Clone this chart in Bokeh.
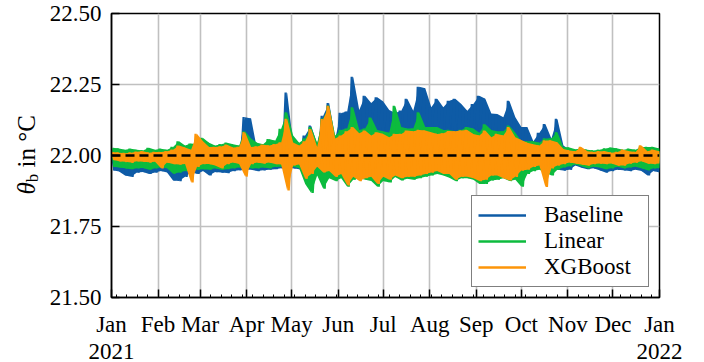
import numpy as np
import pandas as pd
from bokeh.plotting import figure
from bokeh.layouts import row
from bokeh.models import FixedTicker, Span, Range1d, NumeralTickFormatter, Div, DatetimeAxis
from bokeh.embed import file_html
from bokeh.resources import INLINE

# ---------------- data ----------------
START = "2021-01-01"
days = list(range(0, 365, 4))          # sample day (offset from Jan 1, 2021)

baseline_hi = [22.01, 22.008, 22.005, 22.01, 22.008, 22.006, 22.01, 22.008, 22.01, 22.012, 22.015, 22.02, 22.015, 22.012, 22.02, 22.02,
               22.015, 22.012, 22.01, 22.015, 22.012, 22.02, 22.135, 22.13, 22.02, 22.015, 22.02, 22.02, 22.03, 22.222, 22.04,
               22.03, 22.07, 22.105, 22.04, 22.14, 22.185, 22.06, 22.15, 22.155, 22.277, 22.16, 22.21, 22.185, 22.205, 22.19, 22.16,
               22.15, 22.158, 22.2, 22.158, 22.242, 22.237, 22.17, 22.2, 22.17, 22.193, 22.2, 22.181, 22.158, 22.181, 22.21,
               22.2, 22.148, 22.146, 22.135, 22.193, 22.135, 22.1, 22.1, 22.05, 22.08, 22.111, 22.06, 22.129, 22.035, 22.02,
               22.01, 22.012, 22.01, 22.008, 22.01, 22.012, 22.015, 22.012, 22.01, 22.012, 22.01, 22.015, 22.012, 22.01, 22.015]
baseline_lo = [21.948, 21.944, 21.93, 21.925, 21.94, 21.942, 21.935, 21.94, 21.945, 21.94, 21.912, 21.91, 21.925, 21.942, 21.935, 21.945,
               21.93, 21.942, 21.94, 21.938, 21.945, 21.948, 21.95, 21.95, 21.945, 21.948, 21.95, 21.952, 21.955, 21.955, 21.955,
               21.952, 21.95, 21.955, 21.95, 21.955, 21.955, 21.96, 21.955, 21.955, 21.95, 21.955, 21.955, 21.95, 21.955, 21.955, 21.955,
               21.955, 21.955, 21.955, 21.955, 21.955, 21.955, 21.955, 21.955, 21.955, 21.955, 21.955, 21.955, 21.955, 21.955, 21.955,
               21.955, 21.955, 21.955, 21.955, 21.955, 21.955, 21.955, 21.955, 21.955, 21.955, 21.955, 21.952, 21.95, 21.947, 21.95,
               21.965, 21.957, 21.952, 21.955, 21.948, 21.94, 21.945, 21.95, 21.948, 21.945, 21.95, 21.945, 21.93, 21.945, 21.94]
linear_hi = [22.027, 22.025, 22.02, 22.024, 22.02, 22.018, 22.027, 22.02, 22.024, 22.02, 22.03, 22.05, 22.035, 22.042, 22.04, 22.062,
             22.045, 22.035, 22.04, 22.045, 22.04, 22.035, 22.085, 22.06, 22.045, 22.04, 22.058, 22.052, 22.094, 22.152, 22.07,
             22.045, 22.06, 22.1, 22.045, 22.13, 22.176, 22.07, 22.09, 22.095, 22.17, 22.09, 22.095, 22.134, 22.09, 22.085, 22.08,
             22.175, 22.1, 22.095, 22.095, 22.152, 22.1, 22.1, 22.1, 22.09, 22.09, 22.085, 22.09, 22.1, 22.095, 22.08,
             22.11, 22.09, 22.085, 22.085, 22.105, 22.08, 22.05, 22.05, 22.05, 22.045, 22.06, 22.06, 22.082, 22.03, 22.028,
             22.022, 22.025, 22.02, 22.018, 22.02, 22.025, 22.028, 22.025, 22.02, 22.024, 22.02, 22.03, 22.03, 22.03, 22.025]
linear_lo = [21.96, 21.958, 21.955, 21.952, 21.955, 21.956, 21.95, 21.955, 21.958, 21.955, 21.936, 21.94, 21.945, 21.948, 21.95, 21.952,
             21.95, 21.955, 21.95, 21.952, 21.955, 21.958, 21.955, 21.955, 21.955, 21.958, 21.955, 21.96, 21.96, 21.955, 21.96,
             21.955, 21.9, 21.868, 21.93, 21.883, 21.92, 21.91, 21.92, 21.89, 21.915, 21.92, 21.915, 21.91, 21.89, 21.91, 21.905,
             21.924, 21.912, 21.918, 21.915, 21.92, 21.925, 21.93, 21.935, 21.93, 21.922, 21.91, 21.92, 21.92, 21.915, 21.9,
             21.9, 21.912, 21.915, 21.92, 21.91, 21.915, 21.89, 21.935, 21.945, 21.95, 21.94, 21.93, 21.95, 21.958, 21.962,
             21.968, 21.962, 21.955, 21.96, 21.958, 21.952, 21.955, 21.96, 21.955, 21.958, 21.96, 21.955, 21.948, 21.955, 21.955]
xgboost_hi = [22.012, 22.01, 22.008, 22.01, 22.013, 22.015, 22.01, 22.012, 22.012, 22.015, 22.02, 22.035, 22.028, 22.02, 22.076, 22.05,
              22.03, 22.03, 22.032, 22.038, 22.028, 22.03, 22.082, 22.03, 22.032, 22.038, 22.035, 22.04, 22.046, 22.129, 22.046,
              22.035, 22.05, 22.093, 22.03, 22.128, 22.175, 22.06, 22.07, 22.085, 22.1, 22.078, 22.088, 22.07, 22.082, 22.076, 22.064,
              22.076, 22.076, 22.088, 22.085, 22.09, 22.088, 22.082, 22.076, 22.078, 22.086, 22.085, 22.088, 22.09, 22.076, 22.07,
              22.088, 22.064, 22.076, 22.07, 22.1, 22.064, 22.055, 22.045, 22.04, 22.035, 22.053, 22.053, 22.047, 22.023, 22.018,
              22.015, 22.03, 22.015, 22.012, 22.015, 22.015, 22.01, 22.012, 22.02, 22.015, 22.012, 22.035, 22.015, 22.02, 22.015]
xgboost_lo = [21.985, 21.98, 21.978, 21.975, 21.98, 21.978, 21.976, 21.978, 21.955, 21.975, 21.97, 21.968, 21.97, 21.905, 21.96, 21.97,
              21.97, 21.965, 21.955, 21.97, 21.975, 21.97, 21.926, 21.97, 21.975, 21.972, 21.975, 21.97, 21.968, 21.877, 21.965,
              21.968, 21.918, 21.935, 21.96, 21.94, 21.945, 21.925, 21.935, 21.895, 21.925, 21.91, 21.92, 21.925, 21.9, 21.925, 21.915,
              21.93, 21.92, 21.925, 21.925, 21.93, 21.935, 21.94, 21.945, 21.935, 21.935, 21.915, 21.925, 21.925, 21.92, 21.91,
              21.915, 21.93, 21.93, 21.92, 21.912, 21.925, 21.947, 21.95, 21.96, 21.965, 21.889, 21.955, 21.965, 21.97, 21.975,
              21.972, 21.968, 21.965, 21.97, 21.972, 21.97, 21.972, 21.965, 21.965, 21.972, 21.975, 21.98, 21.972, 21.97, 21.972]
setpoint = 22.0

series_names = ["Baseline", "Linear", "XGBoost"]
series_colors = ["#0e5ba6", "#0cbb3e", "#fd9508"]

y_ticks = [21.5, 21.75, 22.0, 22.25, 22.5]
month_labels = ["Jan", "Feb", "Mar", "Apr", "May", "Jun", "Jul", "Aug", "Sep", "Oct", "Nov", "Dec", "Jan"]
year_labels = ["2021", "2022"]

# ---------------- figure ----------------
FONT = "'Liberation Serif', serif"
FS = "23px"
LABEL_W = 44
t0 = pd.Timestamp(START)
t1 = pd.Timestamp("2022-01-01")

p = figure(width=704 - LABEL_W, height=362, output_backend="svg", toolbar_location=None,
           x_axis_type="datetime",
           x_range=Range1d(t0, t1), y_range=Range1d(21.5, 22.5),
           min_border_left=111 - LABEL_W, min_border_right=45, min_border_top=13, min_border_bottom=65)

d = np.array(days)
x_hi = np.datetime64(START) + d * np.timedelta64(1, "D")
x_lo = x_hi + np.timedelta64(2, "D")
x_mid = x_hi + np.timedelta64(1, "D")

data = [(baseline_hi, baseline_lo), (linear_hi, linear_lo), (xgboost_hi, xgboost_lo)]
for (hi, lo), name, col in zip(data, series_names, series_colors):
    xs = np.empty(2 * len(d), dtype="datetime64[ms]")
    ys = np.empty(2 * len(d))
    xs[0::2], xs[1::2] = x_hi, x_lo
    ys[0::2], ys[1::2] = hi, lo
    p.varea(x=x_mid, y1=lo, y2=hi, fill_color=col, fill_alpha=1.0)
    p.line(xs, ys, line_color=col, line_width=2.3, legend_label=name)

p.add_layout(Span(location=setpoint, dimension="width", line_color="black",
                  line_width=2.5, line_dash="9 5"))

# ticks
month_ts = [pd.Timestamp(f"2021-{m:02d}-01") for m in range(1, 13)] + [t1]
month_ms = [ts.value / 1e6 for ts in month_ts]
week_ms = [ts.value / 1e6 for ts in pd.date_range("2021-01-04", "2021-12-31", freq="7D")]
p.xaxis.ticker = FixedTicker(ticks=month_ms, minor_ticks=week_ms)
p.xaxis.major_label_overrides = {ms: lab for ms, lab in zip(month_ms, month_labels)}
p.yaxis.ticker = FixedTicker(ticks=y_ticks)
p.yaxis.formatter = NumeralTickFormatter(format="0.00")

for ax in (p.xaxis[0], p.yaxis[0]):
    ax.axis_line_color = "black"
    ax.axis_line_width = 1.5
    ax.major_tick_line_color = "black"
    ax.major_tick_line_width = 1.5
    ax.major_tick_in = 8
    ax.major_tick_out = 0
    ax.minor_tick_in = 3
    ax.minor_tick_out = 0
    ax.minor_tick_line_color = "black"
    ax.major_label_text_font = FONT
    ax.major_label_text_font_size = FS
    ax.major_label_text_color = "black"
p.yaxis.minor_tick_line_color = None
p.xaxis.major_label_standoff = 14
p.yaxis.major_label_standoff = 10

# second row of x labels: the years
year_ms = [month_ms[0], month_ms[-1]]
year_axis = DatetimeAxis(ticker=FixedTicker(ticks=year_ms),
                         major_label_overrides={ms: lab for ms, lab in zip(year_ms, year_labels)},
                         axis_line_color=None, major_tick_line_color=None, minor_tick_line_color=None,
                         major_label_standoff=-2, major_label_text_font=FONT,
                         major_label_text_font_size=FS, major_label_text_color="black")
p.add_layout(year_axis, "below")

p.grid.grid_line_color = "#c0c0c0"
p.grid.grid_line_width = 1.6
p.outline_line_color = "black"
p.outline_line_width = 1.5

# legend
lg = p.legend[0]
lg.location = "bottom_right"
lg.margin = 10
lg.label_text_font = FONT
lg.label_text_font_size = FS
lg.label_text_color = "black"
lg.glyph_width = 48
lg.glyph_height = 20
lg.label_height = 20
lg.label_width = 98
lg.label_standoff = 18
lg.spacing = 0
lg.padding = 6
lg.border_line_color = "black"
lg.border_line_width = 1
lg.background_fill_alpha = 1.0

# y-axis label (theta with subscript b), rotated, as real HTML text
ylab = Div(width=LABEL_W, height=362, margin=0, text=(
    f'<div style="width:{LABEL_W}px;height:284px;margin-top:13px;padding-left:10px;box-sizing:border-box;'
    'display:flex;align-items:center;justify-content:center;">'
    '<span style="writing-mode:vertical-rl;transform:rotate(180deg);white-space:nowrap;'
    "font-family:'Liberation Serif',serif;font-size:25px;color:black;line-height:1;\">"
    '<i>θ</i><sub style="font-size:17px">b</sub> in °C</span></div>'))

layout = row(ylab, p, spacing=0)
open("out.html", "w").write(file_html(layout, INLINE))
